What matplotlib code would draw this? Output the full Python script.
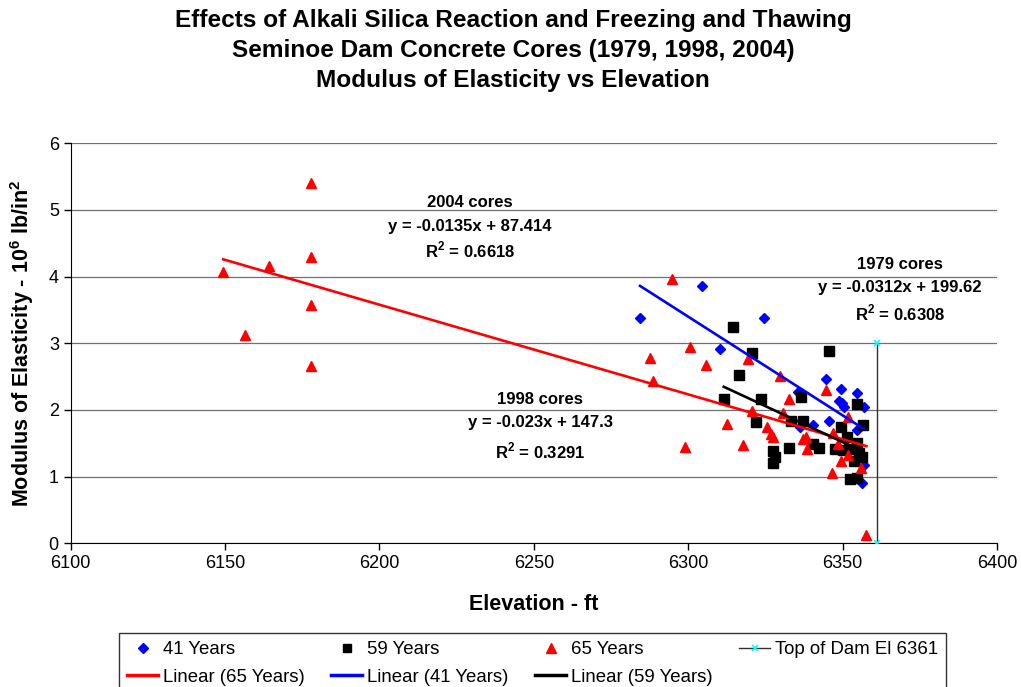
import numpy as np
import matplotlib
matplotlib.use("Agg")
import matplotlib.pyplot as plt
from matplotlib.lines import Line2D

plt.rcParams["font.family"] = ["Liberation Sans", "DejaVu Sans"]
plt.rcParams["mathtext.fontset"] = "custom"
plt.rcParams["mathtext.rm"] = "Liberation Sans"
plt.rcParams["mathtext.bf"] = "Liberation Sans:bold"

# 41 years (1979 cores)
elev41 = [6284.4, 6304.4, 6324.6, 6310.3, 6344.6, 6349.5, 6354.5, 6348.7, 6349.7,
          6350.6, 6356.8, 6335.7, 6345.6, 6340.5, 6336.3, 6354.7, 6356.8, 6356.2]
mod41 = [3.38, 3.86, 3.38, 2.92, 2.47, 2.32, 2.26, 2.14, 2.11,
         2.04, 2.05, 2.27, 1.84, 1.78, 1.75, 1.70, 1.18, 0.90]

# 59 years (1998 cores)
elev59 = [6314.5, 6345.5, 6320.6, 6316.5, 6311.5, 6323.5, 6336.6, 6354.6, 6321.9,
          6333.2, 6337.3, 6356.5, 6349.4, 6351.5, 6340.5, 6342.5, 6332.5, 6347.4,
          6350.2, 6354.6, 6355.3, 6356.4, 6353.6, 6327.5, 6328.2, 6327.4, 6352.4,
          6354.6, 6352.0]
mod59 = [3.25, 2.89, 2.85, 2.52, 2.16, 2.16, 2.19, 2.09, 1.82,
         1.83, 1.84, 1.78, 1.75, 1.60, 1.49, 1.43, 1.43, 1.42,
         1.40, 1.51, 1.36, 1.29, 1.24, 1.39, 1.29, 1.21, 0.96,
         0.98, 1.41]

# 65 years (2004 cores)
elev65 = [6149.4, 6156.5, 6164.3, 6177.8, 6177.8, 6177.8, 6177.8, 6294.7, 6300.6,
          6287.7, 6305.8, 6319.5, 6288.7, 6329.8, 6344.6, 6332.7, 6320.7, 6330.6,
          6351.8, 6312.7, 6325.6, 6326.7, 6327.6, 6337.1, 6338.0, 6298.8, 6317.7,
          6338.6, 6346.8, 6348.6, 6351.8, 6349.6, 6355.8, 6346.7, 6357.7]
mod65 = [4.07, 3.12, 4.16, 5.40, 4.29, 3.58, 2.66, 3.97, 2.95,
         2.78, 2.68, 2.76, 2.43, 2.51, 2.30, 2.17, 1.99, 1.95,
         1.90, 1.79, 1.74, 1.64, 1.59, 1.57, 1.59, 1.45, 1.48,
         1.42, 1.65, 1.49, 1.32, 1.23, 1.13, 1.06, 0.12]

# top of dam marker line
dam_x = [6361, 6361]
dam_y = [0, 3]

labels_2004 = ["2004 cores", "y = -0.0135x + 87.414", r"R$^\mathbf{2}$ = 0.6618"]
labels_1998 = ["1998 cores", "y = -0.023x + 147.3", r"R$^\mathbf{2}$ = 0.3291"]
labels_1979 = ["1979 cores", "y = -0.0312x + 199.62", r"R$^\mathbf{2}$ = 0.6308"]


def trend(xs, ys):
    xs = np.array(xs)
    k, b = np.polyfit(xs, ys, 1)
    xr = np.array([xs.min(), xs.max()])
    return xr, k * xr + b


fig = plt.figure(figsize=(10.21, 6.87), dpi=100)
ax = fig.add_axes([0.0692, 0.2092, 0.9073, 0.5822])

ax.plot(elev41, mod41, "D", color="#0000ff", ms=5.5, mec="#0000ff", zorder=3)
ax.plot(elev59, mod59, "s", color="#000000", ms=6.5, zorder=3)
ax.plot(elev65, mod65, "^", color="#ff0000", ms=7, zorder=3)
ax.plot(dam_x, dam_y, "-", color="#303030", lw=1, marker="x", mec="#00ffff",
        ms=5, mew=1.2, zorder=3)

for xs, ys, c in [(elev65, mod65, "#ff0000"), (elev41, mod41, "#0000ff"),
                  (elev59, mod59, "#000000")]:
    xr, yr = trend(xs, ys)
    ax.plot(xr, yr, color=c, lw=1.9, zorder=4)

ax.set_xlim(6100, 6400)
ax.set_ylim(0, 6)
ax.set_xticks(np.arange(6100, 6401, 50))
ax.set_yticks(np.arange(0, 7, 1))
ax.yaxis.grid(True, color="#707070", lw=0.9)
ax.set_axisbelow(True)
for s in ["top", "right"]:
    ax.spines[s].set_visible(False)
ax.tick_params(labelsize=13, direction="out", length=5, width=1)

for lines, cx, ys in [(labels_2004, 6229.4, [5.105, 4.745, 4.40]),
                      (labels_1998, 6252.0, [2.15, 1.805, 1.385]),
                      (labels_1979, 6368.6, [4.175, 3.83, 3.455])]:
    for t, y in zip(lines, ys):
        ax.text(cx, y, t, ha="center", va="center", fontsize=12, fontweight="bold")

title_lines = ["Effects of Alkali Silica Reaction and Freezing and Thawing",
               "Seminoe Dam Concrete Cores (1979, 1998, 2004)",
               "Modulus of Elasticity vs Elevation"]
for t, ypx in zip(title_lines, [21, 51, 81]):
    fig.text(513 / 1021, 1 - ypx / 687, t, ha="center", va="center",
             fontsize=17.6, fontweight="bold")
fig.text(534 / 1021, 1 - 604 / 687, "Elevation - ft", ha="center", va="center",
         fontsize=15.5, fontweight="bold")
fig.text(22 / 1021, 1 - 343 / 687, r"Modulus of Elasticity - 10$^\mathbf{6}$ lb/in$^\mathbf{2}$",
         ha="center", va="center", rotation=90, fontsize=15.5, fontweight="bold")

h41 = Line2D([], [], ls="", marker="D", color="#0000ff", ms=5)
h59 = Line2D([], [], ls="", marker="s", color="#000000", ms=6)
h65 = Line2D([], [], ls="", marker="^", color="#ff0000", ms=6.5)
hdam = Line2D([], [], color="#303030", lw=1, marker="x", mec="#00ffff", ms=5, mew=1.2)
hl65 = Line2D([], [], color="#ff0000", lw=2.5)
hl41 = Line2D([], [], color="#0000ff", lw=2.5)
hl59 = Line2D([], [], color="#000000", lw=2.5)
handles = [h41, hl65, h59, hl41, h65, hl59, hdam]
names = ["41 Years", "Linear (65 Years)", "59 Years", "Linear (41 Years)",
         "65 Years", "Linear (59 Years)", "Top of Dam El 6361"]
leg = fig.legend(handles, names, ncol=4, loc="upper left",
                 bbox_to_anchor=(119 / 1021, 1 - 633 / 687), fontsize=13.4,
                 frameon=True, fancybox=False, edgecolor="#000000",
                 handlelength=1.65, handletextpad=0.25, columnspacing=1.45,
                 labelspacing=0.55, borderpad=0.45, borderaxespad=0)
leg.get_frame().set_linewidth(1)

fig.savefig("out.png", dpi=100)
